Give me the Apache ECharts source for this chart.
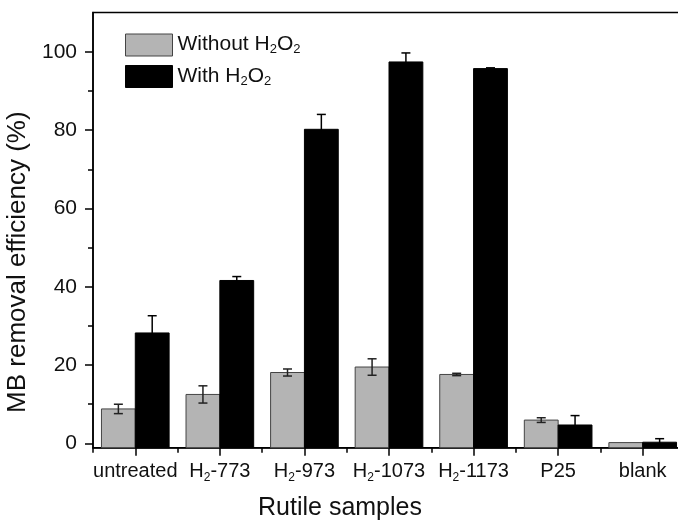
<!DOCTYPE html>
<html>
<head>
<meta charset="utf-8">
<script src="https://cdn.jsdelivr.net/npm/echarts@6/dist/echarts.min.js"></script>
<style>
  html, body { margin: 0; padding: 0; background: #fff; }
  #chart { width: 678px; height: 520px; }
</style>
</head>
<body>
<div id="chart"></div>
<script>
// Samples on the category axis
const categories = ['untreated', 'H2-773', 'H2-973', 'H2-1073', 'H2-1173', 'P25', 'blank'];

// MB removal efficiency (%) and its standard deviation
const withoutH2O2 = [8.8, 12.5, 18.1, 19.5, 17.6, 5.95, 0.2];
const withoutH2O2Err = [1.2, 2.2, 0.9, 2.1, 0.3, 0.6, 0];
const withH2O2 = [28.2, 41.6, 80.2, 97.4, 95.7, 4.7, 0.3];
const withH2O2Err = [4.4, 1.0, 3.8, 2.3, 0.2, 2.4, 0.9];

// Value-axis ticks
const yMajorTicks = [0, 20, 40, 60, 80, 100];
const yMinorTicks = [10, 30, 50, 70, 90];
const Y_MIN = -1.1;
const Y_MAX = 110;

const FONT = '"Liberation Sans", Arial, sans-serif';

// Rich-text styles used to write the "2" of H2 / H2O2 as a subscript
function richStyles(size, subSize) {
  return {
    n: { fontSize: size, fontFamily: FONT, color: '#111', lineHeight: 22, verticalAlign: 'top' },
    s: { fontSize: subSize, fontFamily: FONT, color: '#111', lineHeight: 14, verticalAlign: 'bottom', padding: [14, 0, 0, 0] }
  };
}

function withSubscripts(text) {
  // "H2" and "O2" become H{2} and O{2}
  return text.replace(/([HO])2/g, '$1\u0000').split('\u0000').map((part, i, arr) =>
    (part ? '{n|' + part + '}' : '') + (i < arr.length - 1 ? '{s|2}' : '')
  ).join('');
}

const BAR_FRACTION = 0.4;   // width of one bar relative to the category band

function makeSeries(name, values, errors, slot, fill, stroke, errColor) {
  return {
    type: 'custom',
    name: name,
    xAxisIndex: 0,
    yAxisIndex: 0,
    itemStyle: { color: fill, borderColor: stroke, borderWidth: 1 },
    data: values.map((v, i) => [i, v, errors[i]]),
    renderItem: function (params, api) {
      const idx = api.value(0);
      const v = api.value(1);
      const e = api.value(2);
      const band = api.size([1, 0])[0];
      const w = band * BAR_FRACTION;
      const xc = api.coord([idx, 0])[0] + slot * w;   // centre of this bar
      const yTop = api.coord([idx, v])[1];
      const yBase = api.coord([idx, Y_MIN])[1];
      const children = [{
        type: 'rect',
        shape: { x: xc - w / 2, y: yTop, width: w, height: yBase - yTop },
        style: { fill: fill, stroke: stroke, lineWidth: 1 }
      }];
      if (e > 0) {
        const yHi = api.coord([idx, v + e])[1];
        const yLo = api.coord([idx, v - e])[1];
        const cap = 4.5;
        const st = { stroke: errColor, lineWidth: 1.5 };
        children.push(
          { type: 'line', shape: { x1: xc, y1: yHi, x2: xc, y2: yLo }, style: st },
          { type: 'line', shape: { x1: xc - cap, y1: yHi, x2: xc + cap, y2: yHi }, style: st },
          { type: 'line', shape: { x1: xc - cap, y1: yLo, x2: xc + cap, y2: yLo }, style: st }
        );
      }
      return { type: 'group', children: children };
    }
  };
}

const chart = echarts.init(document.getElementById('chart'), null, { renderer: 'canvas' });

chart.setOption({
  animation: false,
  backgroundColor: '#fff',
  grid: {
    left: 93, width: 592, top: 12.6, bottom: 72.3,
    outerBoundsMode: 'none', containLabel: false,
    show: true, borderColor: '#000', borderWidth: 1.5, backgroundColor: 'transparent'
  },
  legend: {
    orient: 'vertical',
    left: 125, top: 29, padding: 0,
    itemWidth: 47, itemHeight: 22, itemGap: 4,
    icon: 'rect',
    data: [
      { name: 'Without H2O2', itemStyle: { color: '#b4b4b4', borderColor: '#444', borderWidth: 1 } },
      { name: 'With H2O2', itemStyle: { color: '#000', borderColor: '#000', borderWidth: 1 } }
    ],
    formatter: name => withSubscripts(name),
    textStyle: { fontFamily: FONT, fontSize: 21, color: '#111', rich: richStyles(21, 13) }
  },
  xAxis: [{
    type: 'category',
    data: categories,
    position: 'bottom',
    name: 'Rutile samples',
    nameLocation: 'middle',
    nameGap: 48,
    nameTextStyle: { fontFamily: FONT, fontSize: 25, color: '#111', padding: [0, 98, 0, 0] },
    axisLine: { show: true, onZero: false, lineStyle: { color: '#000', width: 1.5 } },
    axisTick: { show: true, alignWithLabel: true, length: 8, lineStyle: { color: '#000', width: 1.5 } },
    axisLabel: {
      margin: 14, interval: 0,
      formatter: v => withSubscripts(v),
      fontFamily: FONT, fontSize: 20, color: '#111',
      rich: richStyles(20, 12)
    },
    splitLine: { show: false }
  }, {
    // shorter ticks on the category boundaries
    type: 'category',
    data: categories,
    position: 'bottom',
    axisLine: { show: false, onZero: false },
    axisTick: { show: true, length: 5, lineStyle: { color: '#000', width: 1.5 } },
    axisLabel: { show: false },
    splitLine: { show: false }
  }],
  yAxis: [{
    type: 'value',
    position: 'left',
    min: Y_MIN, max: Y_MAX,
    name: 'MB removal efficiency (%)',
    nameLocation: 'middle',
    nameGap: 56,
    nameTextStyle: { fontFamily: FONT, fontSize: 26, color: '#111', padding: [0, 64, 0, 0] },
    axisLine: { show: true, onZero: false, lineStyle: { color: '#000', width: 1.5 } },
    axisTick: { show: true, length: 8, customValues: yMajorTicks, lineStyle: { color: '#000', width: 1.5 } },
    axisLabel: { margin: 16, customValues: yMajorTicks, fontFamily: FONT, fontSize: 21, color: '#111' },
    splitLine: { show: false }
  }, {
    // minor ticks between the labelled ones
    type: 'value',
    position: 'left',
    min: Y_MIN, max: Y_MAX,
    axisLine: { show: false, onZero: false },
    axisTick: { show: true, length: 5, customValues: yMinorTicks, lineStyle: { color: '#000', width: 1.5 } },
    axisLabel: { show: false, customValues: yMinorTicks },
    splitLine: { show: false }
  }],
  series: [
    makeSeries('Without H2O2', withoutH2O2, withoutH2O2Err, -0.5, '#b4b4b4', '#444', '#222'),
    makeSeries('With H2O2', withH2O2, withH2O2Err, 0.5, '#000', '#000', '#000')
  ]
});
</script>
</body>
</html>
